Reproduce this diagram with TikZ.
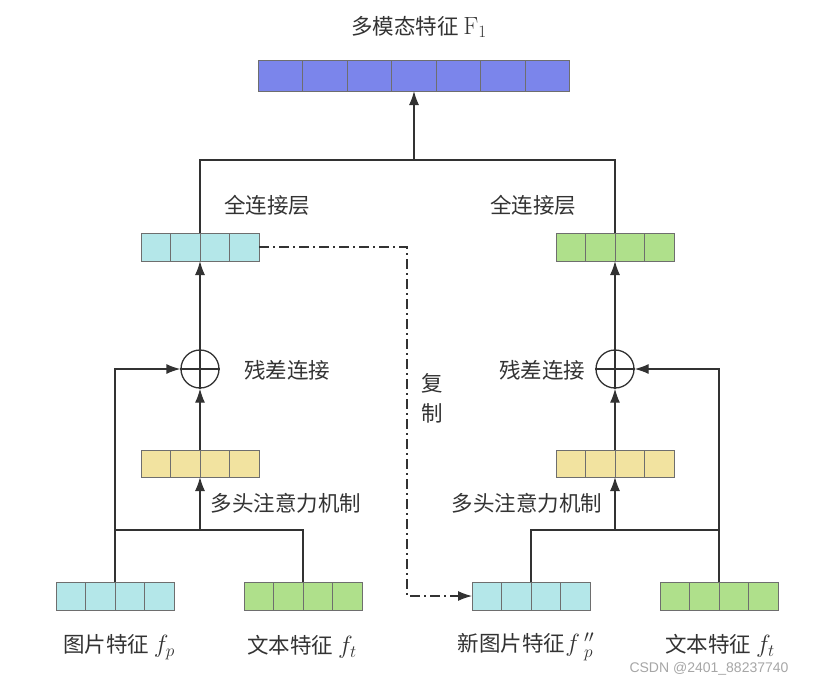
\documentclass[tikz,border=0pt]{standalone}
\usepackage[no-math]{fontspec}
\newfontfamily\cjk{Noto Sans CJK SC}
\newfontfamily\wmfont{Liberation Sans}
\usetikzlibrary{arrows.meta,calc}
\definecolor{barblue}{RGB}{123,133,235}
\definecolor{cellcyan}{RGB}{180,231,233}
\definecolor{cellgreen}{RGB}{175,224,139}
\definecolor{cellyellow}{RGB}{242,227,160}
\definecolor{cellgray}{RGB}{110,110,110}
\definecolor{linegray}{RGB}{50,50,50}
\definecolor{txtgray}{RGB}{51,51,51}
\tikzset{
  featbox/.style={draw=cellgray, line width=1pt, minimum height=28pt, inner sep=0pt, outer sep=0pt},
  cellline/.style={draw=cellgray, line width=1pt},
  link/.style={draw=linegray, line width=1.3pt},
  arr/.style={link, -{Latex[length=14pt,width=10pt]}},
  addop/.style={circle, draw=linegray, line width=1.3pt, minimum size=38pt, inner sep=0pt},
  lbl/.style={font=\cjk\fontsize{21.5}{30}\selectfont, text=txtgray, inner sep=0pt},
  copyline/.style={link, line width=1.2pt, dash pattern=on 10pt off 4pt on 2pt off 4pt},
  wm/.style={font=\wmfont\fontsize{14}{16}\selectfont, text=black!35, inner sep=0pt},
}
% larger math inside the labels
\newcommand{\featmath}[1]{{\fontsize{27}{30}\selectfont$#1$}}
% bar of feature cells: [options]{name}{at}{cells}{width}{fill}
\newcommand{\featbar}[6][]{%
  \node[featbox, fill=#6, minimum width=#5pt, #1] (#2) at #3 {};
  \foreach \k [evaluate=\k as \fr using (\k-1)/#4] in {2,...,#4}
    \draw[cellline] ($(#2.north west)!\fr!(#2.north east)$) -- ($(#2.south west)!\fr!(#2.south east)$);
}
\begin{document}
\begin{tikzpicture}[x=1pt,y=-1pt]
\useasboundingbox (0,0) rectangle (819,681);
% fused output
\featbar[minimum height=31pt]{fusion}{(414,75.5)}{7}{311}{barblue}
% fully connected layers
\featbar{fcl}{(200,247)}{4}{118}{cellcyan}
\featbar{fcr}{(615,247)}{4}{118}{cellgreen}
% attention outputs
\featbar[minimum height=27pt]{attl}{(200,463.5)}{4}{118}{cellyellow}
\featbar[minimum height=27pt]{attr}{(615,463.5)}{4}{118}{cellyellow}
% inputs
\featbar{imgl}{(115,596)}{4}{118}{cellcyan}
\featbar{txtl}{(303,596)}{4}{118}{cellgreen}
\featbar{imgr}{(531,596)}{4}{118}{cellcyan}
\featbar{txtr}{(719,596)}{4}{118}{cellgreen}
% residual adds
\node[addop] (addl) at (200,369) {};
\node[addop] (addr) at (615,369) {};
\draw[link] (addl.north) -- (addl.south) (addl.west) -- (addl.east);
\draw[link] (addr.north) -- (addr.south) (addr.west) -- (addr.east);
% left branch
\coordinate (jl) at (200,530);
\draw[link] (txtl.north) |- (imgl.north |- jl);
\draw[arr] (jl) -- (attl.south);
\draw[arr] (imgl.north) |- (addl.west);
\draw[arr] (attl.north) -- (addl.south);
\draw[arr] (addl.north) -- (fcl.south);
% right branch
\coordinate (jr) at (615,530);
\draw[link] (imgr.north) |- (txtr.north |- jr);
\draw[arr] (jr) -- (attr.south);
\draw[arr] (txtr.north) |- (addr.east);
\draw[arr] (attr.north) -- (addr.south);
\draw[arr] (addr.north) -- (fcr.south);
% merge
\coordinate (mj) at (414,160);
\draw[link] (fcl.north) |- (mj) -| (fcr.north);
\draw[arr] (mj) -- (fusion.south);
% copy
\coordinate (cpx) at (407,0);
\draw[copyline, -{Latex[length=14pt,width=10pt]}] (fcl.east) -- (fcl.east -| cpx) -- (imgr.west -| cpx) -- (imgr.west);
% labels
\node[lbl] (tfusion) at (419,27) {多模态特征\ \featmath{\mathrm{F}_1}};
\node[lbl] (tfcl) at (267,205) {全连接层};
\node[lbl] (tfcr) at (533,205) {全连接层};
\node[lbl] (taddl) at (287,370) {残差连接};
\node[lbl] (taddr) at (542,370) {残差连接};
\node[lbl] (tattl) at (286,503) {多头注意力机制};
\node[lbl] (tattr) at (527,503) {多头注意力机制};
\node[lbl, align=center] (tcopy) at (432,398) {复\\制};
\node[lbl] (timgl) at (119,647) {图片特征\ \featmath{f_p}};
\node[lbl] (ttxtl) at (302,647) {文本特征\ \featmath{f_t}};
\node[lbl] (timgr) at (526,647) {新图片特征\featmath{f\,''_{p}}};
\node[lbl] (ttxtr) at (720,646) {文本特征\ \featmath{f_t}};
\node[wm] (mark) at (709,669) {CSDN @2401\_88237740};
\end{tikzpicture}
\end{document}
